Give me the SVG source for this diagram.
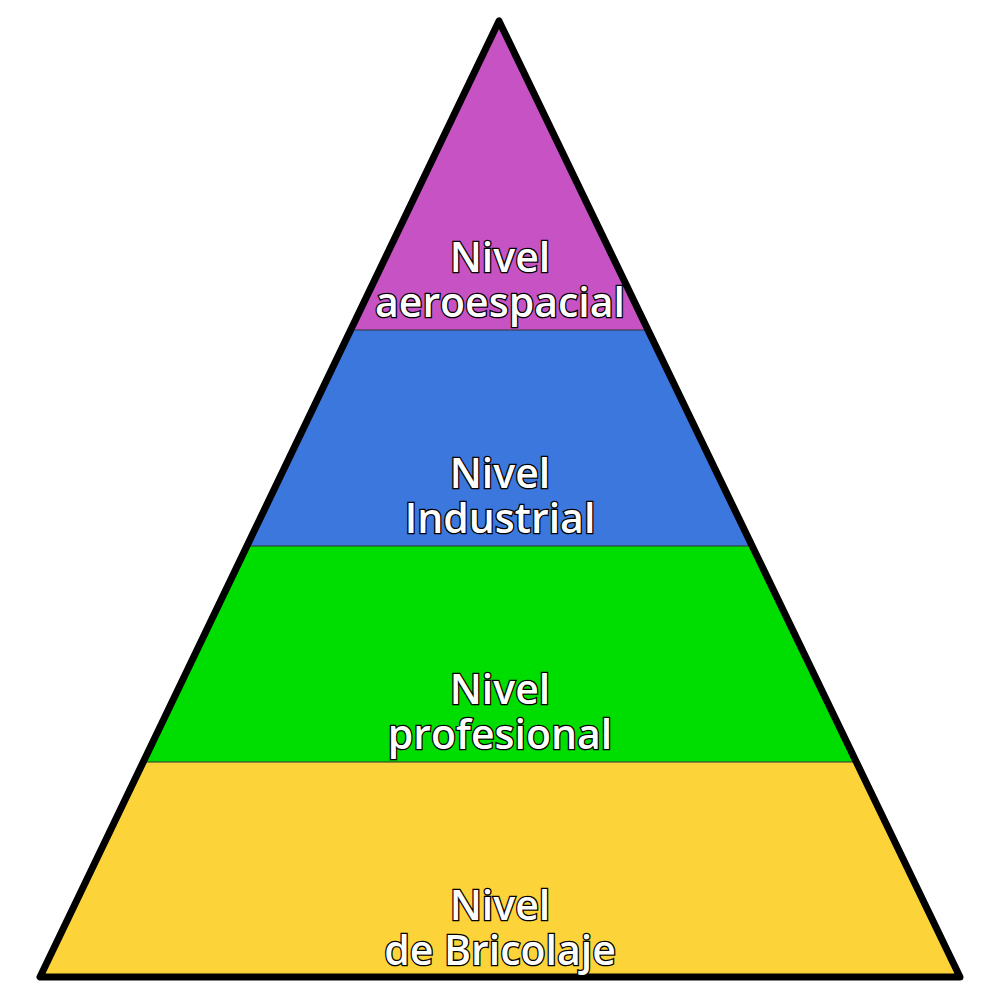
<svg xmlns="http://www.w3.org/2000/svg" width="1000" height="1000" viewBox="0 0 1000 1000">
<style>
.lbl{font-family:"Open Sans","Noto Sans",sans-serif;font-weight:600;font-size:41px;fill:#fff;stroke:#000;stroke-width:2.6;paint-order:stroke;text-anchor:middle}
.sep{stroke:#333;stroke-width:1.2}
</style>
<defs>
<clipPath id="tri"><polygon points="499,21 40,977 960,977"/></clipPath>
</defs>
<g clip-path="url(#tri)">
<g id="aeroespacial">
<rect x="0" y="0" width="1000" height="330" fill="#C652C4"/>
</g>
<g id="industrial">
<rect x="0" y="330" width="1000" height="216" fill="#3B77DD"/>
</g>
<g id="profesional">
<rect x="0" y="546" width="1000" height="216" fill="#00DD00"/>
</g>
<g id="bricolaje">
<rect x="0" y="762" width="1000" height="216" fill="#FDD33A"/>
</g>
<g id="connectors">
<line class="sep" x1="0" y1="330" x2="1000" y2="330"/>
<line class="sep" x1="0" y1="546" x2="1000" y2="546"/>
<line class="sep" x1="0" y1="762" x2="1000" y2="762"/>
</g>
</g>
<polygon points="499,21 40,977 960,977" fill="none" stroke="#000" stroke-width="7" stroke-linejoin="round"/>
<text class="lbl"><tspan x="500" y="272">Nivel</tspan><tspan x="500" y="317">aeroespacial</tspan></text>
<text class="lbl"><tspan x="500" y="488">Nivel</tspan><tspan x="500" y="533">Industrial</tspan></text>
<text class="lbl"><tspan x="500" y="704">Nivel</tspan><tspan x="500" y="749">profesional</tspan></text>
<text class="lbl"><tspan x="500" y="920">Nivel</tspan><tspan x="500" y="965">de Bricolaje</tspan></text>
</svg>
